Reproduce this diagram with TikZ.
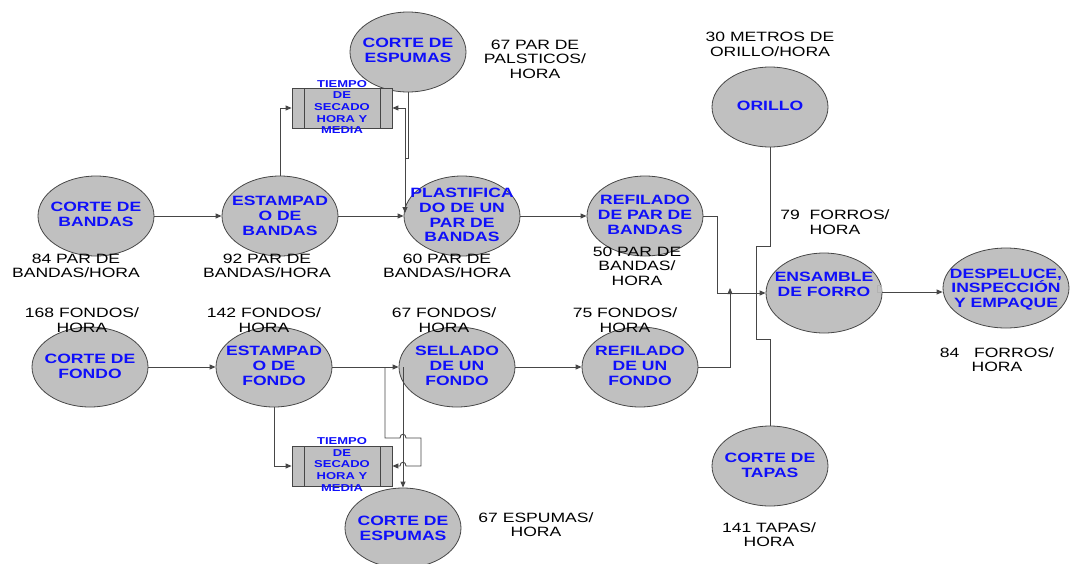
\documentclass[tikz,border=0pt]{standalone}
\usepackage{fontspec}
\setmainfont{Liberation Sans}[FakeStretch=1.3]
\usetikzlibrary{shapes.geometric,arrows.meta}
\definecolor{procfill}{RGB}{192,192,192}
\definecolor{edge}{RGB}{70,70,70}
\definecolor{procblue}{RGB}{15,15,250}
\begin{document}
\begin{tikzpicture}[x=1pt,y=-1pt,
  proc/.style={ellipse,draw=edge,fill=procfill,line width=0.8pt,
    minimum width=116pt,minimum height=80pt,inner sep=0pt},
  ptext/.style={text=procblue,align=center,inner sep=0pt,
    font=\fontsize{13.5}{14.8}\selectfont\bfseries},
  dry/.style={draw=edge,fill=procfill,line width=0.8pt,
    minimum width=100pt,minimum height=40pt,inner sep=0pt},
  drytext/.style={text=procblue,align=center,inner sep=0pt,
    font=\fontsize{10}{11.6}\selectfont\bfseries},
  rate/.style={text=black,align=center,inner sep=0pt,
    font=\fontsize{13.5}{14.5}\selectfont},
  link/.style={draw=edge,line width=0.9pt},
  flow/.style={link,-{Triangle[length=6pt,width=5pt]}}]
\useasboundingbox (0,0) rectangle (1071,563);

% process ellipses
\node[proc] (cb) at (96,216) {};
\node[proc] (eb) at (280,216) {};
\node[proc] (pl) at (462,216) {};
\node[proc] (rp) at (645,216) {};
\node[proc] (es1) at (408,52) {};
\node[proc] (or) at (770,107) {};
\node[proc] (en) at (824,293) {};
\node[proc,minimum width=126pt] (de) at (1006,288) {};
\node[proc] (cf) at (90,367) {};
\node[proc] (ef) at (274,367) {};
\node[proc] (se) at (457,367) {};
\node[proc] (rf) at (640,367) {};
\node[proc] (ct) at (770,466) {};
\node[proc] (es2) at (403,528) {};

% drying boxes
\node[dry] (d1) at (342,108) {};
\draw[edge,line width=0.8pt] (304,88) -- (304,128) (380,88) -- (380,128);
\node[dry] (d2) at (342,466) {};
\draw[edge,line width=0.8pt] (304,446) -- (304,486) (380,446) -- (380,486);

% connectors, upper line
\draw[flow] (cb.east) -- (eb.west);
\draw[flow] (eb.east) -- (pl.west);
\draw[flow] (eb.north) |- (d1.west);
\coordinate (j1) at (405,158);
\coordinate (pin) at (405,213);
\draw[flow] (j1) |- (d1.east);
\draw[flow] (es1.south) |- (j1) -- (pin);
\draw[flow] (pl.east) -- (rp.west);

% connectors, lower line
\draw[flow] (cf.east) -- (ef.west);
\draw[flow] (ef.east) -- (se.west);
\draw[flow] (ef.south) |- (d2.west);
\coordinate (k1) at (385,367);
\coordinate (k2) at (421,438);
\coordinate (k3) at (403,367);
\draw[flow] (k1) -- (385,438) -- (400,438) .. controls (400,433) and (406,433) .. (406,438)
  -- (k2) -- (421,466) -- (406,466) .. controls (406,461) and (400,461) .. (400,466) -- (d2.east);
\draw[flow] (k3) -- (es2.north);
\draw[flow] (se.east) -- (rf.west);

% assembly
\coordinate (m1) at (717,293);
\coordinate (m2) at (730,288);
\draw[flow] (rp.east) -| (m1) -- (en.west);
\draw[flow] (rf.east) -| (m2);
\coordinate (o1) at (756,246);
\coordinate (o2) at (756,339);
\draw[link] (or.south) |- (o1) -- (o2) -| (ct.north);
\coordinate (n1) at (882,292);
\draw[flow] (n1) -- (de.west |- n1);
\draw[gray!60,line width=0.6pt] (877,285) rectangle (881,292);

% process names
\node[ptext] (cb-t) at (96,214.5) {CORTE DE\\BANDAS};
\node[ptext] (eb-t) at (280,216) {ESTAMPAD\\O DE\\BANDAS};
\node[ptext] (pl-t) at (462,215) {PLASTIFICA\\DO DE UN\\PAR DE\\BANDAS};
\node[ptext] (rp-t) at (645,215) {REFILADO\\DE PAR DE\\BANDAS};
\node[ptext] (es1-t) at (408,50.5) {CORTE DE\\ESPUMAS};
\node[ptext] (or-t) at (770,106) {ORILLO};
\node[ptext] (en-t) at (824,284.5) {ENSAMBLE\\DE FORRO};
\node[ptext] (de-t) at (1006,289.5) {DESPELUCE,\\INSPECCIÓN\\Y EMPAQUE};
\node[ptext] (cf-t) at (90,366) {CORTE DE\\FONDO};
\node[ptext] (ef-t) at (274,366) {ESTAMPAD\\O DE\\FONDO};
\node[ptext] (se-t) at (457,366) {SELLADO\\DE UN\\FONDO};
\node[ptext] (rf-t) at (640,366) {REFILADO\\DE UN\\FONDO};
\node[ptext] (ct-t) at (770,465) {CORTE DE\\TAPAS};
\node[ptext] (es2-t) at (403,528) {CORTE DE\\ESPUMAS};
\node[drytext] (d1-t) at (342,107) {TIEMPO\\DE\\SECADO\\HORA Y\\MEDIA};
\node[drytext] (d2-t) at (342,464.5) {TIEMPO\\DE\\SECADO\\HORA Y\\MEDIA};

% rates
\node[rate] (r1) at (76,266) {84 PAR DE\\BANDAS/HORA};
\node[rate] (r2) at (267,266) {92 PAR DE\\BANDAS/HORA};
\node[rate] (r3) at (447,266) {60 PAR DE\\BANDAS/HORA};
\node[rate] (r4) at (637,266) {50 PAR DE\\BANDAS/\\HORA};
\node[rate] (r5) at (535,59) {67 PAR DE\\PALSTICOS/\\HORA};
\node[rate] (r6) at (770,44.5) {30 METROS DE\\ORILLO/HORA};
\node[rate] (r7) at (835,222) {79\ \ FORROS/\\HORA};
\node[rate] (r8) at (997,359.5) {84\ \ \ FORROS/\\HORA};
\node[rate] (r9) at (82,320) {168 FONDOS/\\HORA};
\node[rate] (r10) at (264,320) {142 FONDOS/\\HORA};
\node[rate] (r11) at (444,320) {67 FONDOS/\\HORA};
\node[rate] (r12) at (625,320) {75 FONDOS/\\HORA};
\node[rate] (r13) at (769,534.5) {141 TAPAS/\\HORA};
\node[rate] (r14) at (536,524.5) {67 ESPUMAS/\\HORA};
\end{tikzpicture}
\end{document}
